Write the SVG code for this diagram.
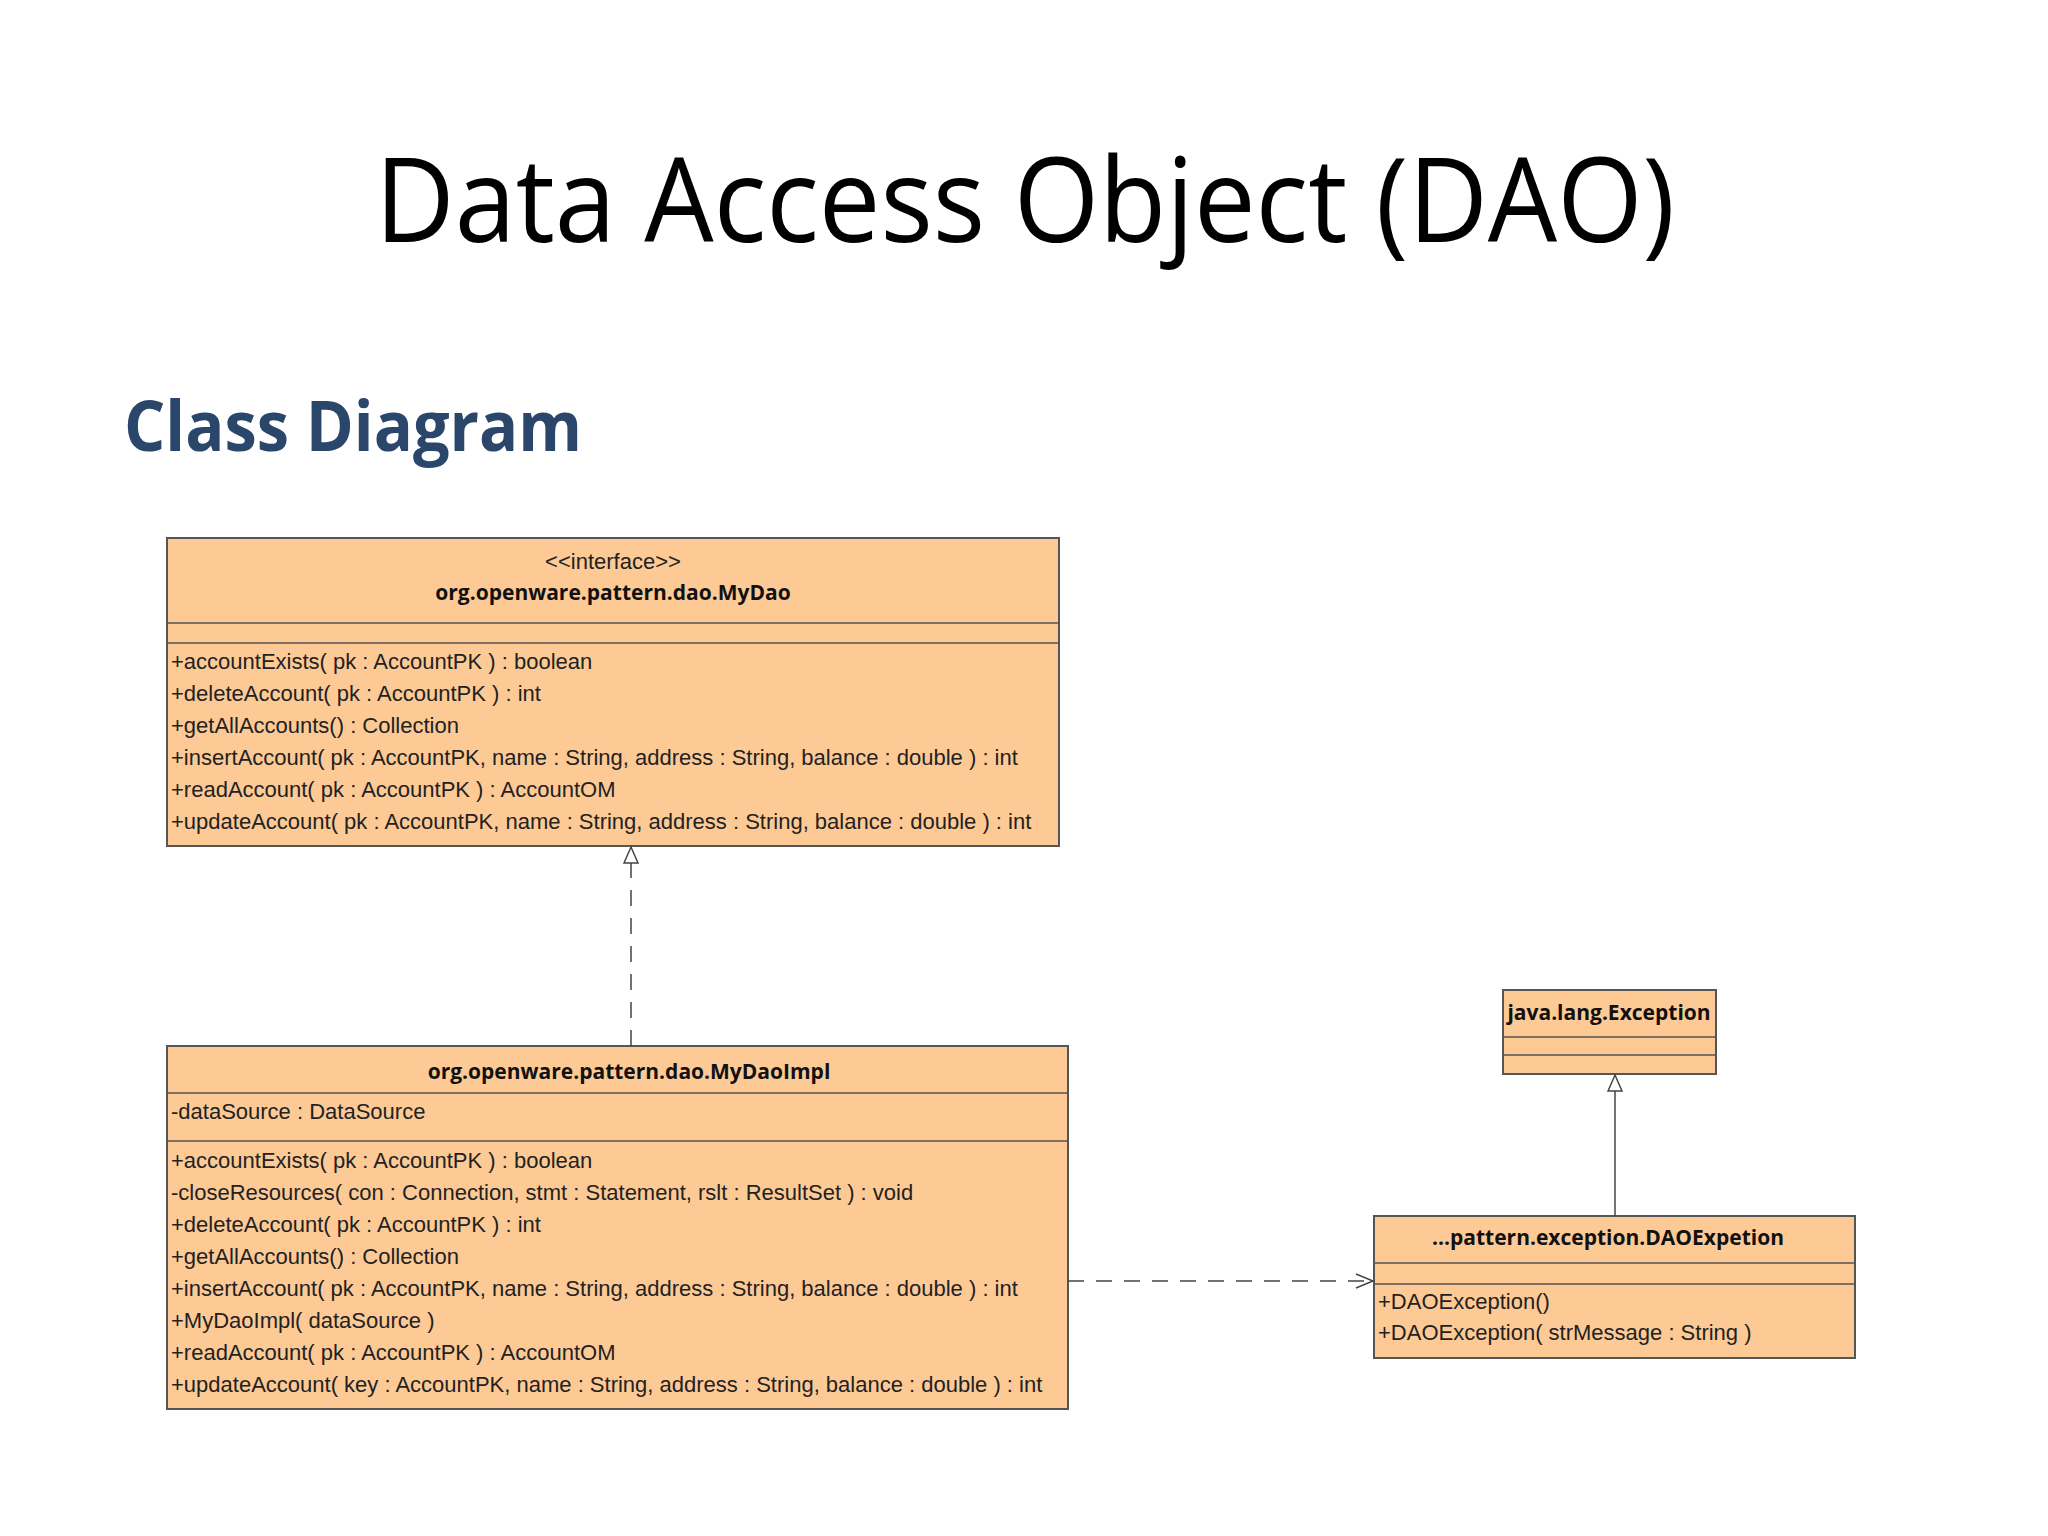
<svg xmlns="http://www.w3.org/2000/svg" width="2048" height="1536" viewBox="0 0 2048 1536">
<style>
.box{fill:#fdca96;stroke:#555;stroke-width:2}
.ln{stroke:#555;stroke-width:1.5}
.t{font-family:"Liberation Sans",Arial,sans-serif;font-size:22px;fill:#222}
.b{font-family:"Open Sans","Liberation Sans",sans-serif;font-size:21px;font-weight:bold;fill:#111}
.c{stroke:#444;stroke-width:1.5;fill:none}
</style>
<defs>
<marker id="tri" markerWidth="20" markerHeight="20" refX="17" refY="8" orient="auto" markerUnits="userSpaceOnUse"><path d="M1,1 L17,8 L1,15 Z" fill="#fff" stroke="#444" stroke-width="1.5"/></marker>
<marker id="open" markerWidth="20" markerHeight="20" refX="18" refY="8" orient="auto" markerUnits="userSpaceOnUse"><path d="M1,1 L18,8 L1,15" fill="none" stroke="#444" stroke-width="1.5"/></marker>
</defs>
<rect width="2048" height="1536" fill="#fff"/>
<text x="1025" y="242" text-anchor="middle" font-family="Open Sans, Liberation Sans, sans-serif" font-size="118" fill="#000" textLength="1300" lengthAdjust="spacingAndGlyphs">Data Access Object (DAO)</text>
<text x="124" y="451" font-family="Open Sans, Liberation Sans, sans-serif" font-size="70" font-weight="bold" fill="#2a466b" textLength="458" lengthAdjust="spacingAndGlyphs">Class Diagram</text>
<g id="mydao">
<rect class="box" x="167" y="538" width="892" height="308"/>
<line class="ln" x1="167" y1="623" x2="1059" y2="623"/>
<line class="ln" x1="167" y1="643" x2="1059" y2="643"/>
<text class="t" x="613" y="569" text-anchor="middle" font-size="19">&lt;&lt;interface&gt;&gt;</text>
<text class="b" x="613" y="600" text-anchor="middle">org.openware.pattern.dao.MyDao</text>
<text class="t" x="171" y="669">+accountExists( pk : AccountPK ) : boolean</text>
<text class="t" x="171" y="701">+deleteAccount( pk : AccountPK ) : int</text>
<text class="t" x="171" y="733">+getAllAccounts() : Collection</text>
<text class="t" x="171" y="765">+insertAccount( pk : AccountPK, name : String, address : String, balance : double ) : int</text>
<text class="t" x="171" y="797">+readAccount( pk : AccountPK ) : AccountOM</text>
<text class="t" x="171" y="829">+updateAccount( pk : AccountPK, name : String, address : String, balance : double ) : int</text>
</g>
<g id="mydaoimpl">
<rect class="box" x="167" y="1046" width="901" height="363"/>
<line class="ln" x1="167" y1="1093" x2="1068" y2="1093"/>
<line class="ln" x1="167" y1="1141" x2="1068" y2="1141"/>
<text class="b" x="629" y="1079" text-anchor="middle">org.openware.pattern.dao.MyDaoImpl</text>
<text class="t" x="171" y="1119">-dataSource : DataSource</text>
<text class="t" x="171" y="1168">+accountExists( pk : AccountPK ) : boolean</text>
<text class="t" x="171" y="1200">-closeResources( con : Connection, stmt : Statement, rslt : ResultSet ) : void</text>
<text class="t" x="171" y="1232">+deleteAccount( pk : AccountPK ) : int</text>
<text class="t" x="171" y="1264">+getAllAccounts() : Collection</text>
<text class="t" x="171" y="1296">+insertAccount( pk : AccountPK, name : String, address : String, balance : double ) : int</text>
<text class="t" x="171" y="1328">+MyDaoImpl( dataSource )</text>
<text class="t" x="171" y="1360">+readAccount( pk : AccountPK ) : AccountOM</text>
<text class="t" x="171" y="1392">+updateAccount( key : AccountPK, name : String, address : String, balance : double ) : int</text>
</g>
<g id="exception">
<rect class="box" x="1503" y="990" width="213" height="84"/>
<line class="ln" x1="1503" y1="1037" x2="1716" y2="1037"/>
<line class="ln" x1="1503" y1="1055" x2="1716" y2="1055"/>
<text class="b" x="1609" y="1020" text-anchor="middle">java.lang.Exception</text>
</g>
<g id="daoexception">
<rect class="box" x="1374" y="1216" width="481" height="142"/>
<line class="ln" x1="1374" y1="1263" x2="1855" y2="1263"/>
<line class="ln" x1="1374" y1="1284" x2="1855" y2="1284"/>
<text class="b" x="1608" y="1245" text-anchor="middle">...pattern.exception.DAOExpetion</text>
<text class="t" x="1378" y="1309">+DAOException()</text>
<text class="t" x="1378" y="1340">+DAOException( strMessage : String )</text>
</g>
<g id="connectors">
<line class="c" x1="631" y1="1046" x2="631" y2="847" stroke-dasharray="16,12" marker-end="url(#tri)"/>
<line class="c" x1="1615" y1="1216" x2="1615" y2="1075" marker-end="url(#tri)"/>
<line class="c" x1="1068" y1="1281" x2="1373" y2="1281" stroke-dasharray="16,12" marker-end="url(#open)"/>
</g>
</svg>
